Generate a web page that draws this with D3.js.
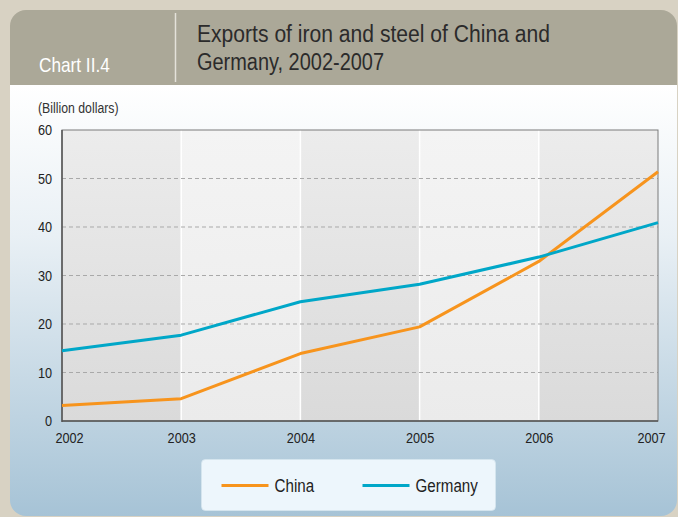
<!DOCTYPE html>
<html lang="en">
<head>
    <title>Exports of iron and steel of China and Germany, 2002-2007</title>
    <style>
        body {
            margin: 0;
            padding: 0;
            background: #d8d2c3;
        }
        svg {
            display: block;
            font-family: "Liberation Sans", Arial, sans-serif;
        }
    </style>
    <script src="https://d3js.org/d3.v7.min.js"></script>
</head>
<body>
    <div id="chart"></div>

    <script>
        // Chart data (billion dollars)
        const years = [2002, 2003, 2004, 2005, 2006, 2007];
        const china = [3.2, 4.6, 13.9, 19.4, 32.9, 51.4];
        const germany = [14.5, 17.7, 24.6, 28.2, 33.8, 40.9];
        const yTicks = [0, 10, 20, 30, 40, 50, 60];
        const seriesNames = ['China', 'Germany'];
        const seriesColors = ['#f7941d', '#00a7c8'];

        // the original uses a condensed face, so squeeze Liberation Sans horizontally
        const NARROW = 0.82;

        document.addEventListener('DOMContentLoaded', function() {
            const width = 678;
            const height = 517;
            const plot = {left: 62, right: 658, top: 130, bottom: 421};

            const svg = d3.select('#chart')
                .append('svg')
                .attr('width', width)
                .attr('height', height);

            function narrowText(parent, x, y, str, size, color, anchor) {
                return parent.append('g')
                    .attr('transform', `translate(${x},${y}) scale(${NARROW},1)`)
                    .append('text')
                    .style('font-size', size + 'px')
                    .style('fill', color)
                    .style('text-anchor', anchor || 'start')
                    .text(str);
            }

            const defs = svg.append('defs');

            const bodyGrad = defs.append('linearGradient')
                .attr('id', 'body-grad')
                .attr('x1', 0).attr('y1', 0).attr('x2', 0).attr('y2', 1);
            bodyGrad.append('stop').attr('offset', '0%').attr('stop-color', '#ffffff');
            bodyGrad.append('stop').attr('offset', '35%').attr('stop-color', '#e9f0f5');
            bodyGrad.append('stop').attr('offset', '100%').attr('stop-color', '#a6c3d6');

            const darkGrad = defs.append('linearGradient')
                .attr('id', 'dark-band')
                .attr('x1', 0).attr('y1', 0).attr('x2', 0).attr('y2', 1);
            darkGrad.append('stop').attr('offset', '0%').attr('stop-color', '#ececec');
            darkGrad.append('stop').attr('offset', '100%').attr('stop-color', '#dadada');

            const lightGrad = defs.append('linearGradient')
                .attr('id', 'light-band')
                .attr('x1', 0).attr('y1', 0).attr('x2', 0).attr('y2', 1);
            lightGrad.append('stop').attr('offset', '0%').attr('stop-color', '#f4f4f4');
            lightGrad.append('stop').attr('offset', '100%').attr('stop-color', '#ebebeb');

            const clip = defs.append('clipPath').attr('id', 'panel-clip');
            clip.append('rect')
                .attr('x', 10).attr('y', 10)
                .attr('width', 667).attr('height', 506)
                .attr('rx', 16).attr('ry', 16);

            // Panel: header band + gradient body
            const panel = svg.append('g').attr('clip-path', 'url(#panel-clip)');
            panel.append('rect')
                .attr('x', 10).attr('y', 85)
                .attr('width', 667).attr('height', 432)
                .style('fill', 'url(#body-grad)');
            panel.append('rect')
                .attr('x', 10).attr('y', 10)
                .attr('width', 667).attr('height', 75)
                .style('fill', '#aba898');

            svg.append('line')
                .attr('x1', 175.5).attr('x2', 175.5)
                .attr('y1', 13).attr('y2', 82)
                .style('stroke', '#e4e2da')
                .style('stroke-width', 1.5);

            narrowText(svg, 39, 72, 'Chart II.4', 21, '#ffffff');

            svg.append('text')
                .attr('x', 197).attr('y', 42)
                .attr('textLength', 353)
                .attr('lengthAdjust', 'spacingAndGlyphs')
                .style('font-size', '23px')
                .style('fill', '#2b2b2b')
                .text('Exports of iron and steel of China and');
            svg.append('text')
                .attr('x', 197).attr('y', 70)
                .attr('textLength', 187)
                .attr('lengthAdjust', 'spacingAndGlyphs')
                .style('font-size', '23px')
                .style('fill', '#2b2b2b')
                .text('Germany, 2002-2007');

            narrowText(svg, 38, 113, '(Billion dollars)', 15, '#333');

            // Scales
            const x = d3.scaleLinear()
                .domain(d3.extent(years))
                .range([plot.left, plot.right]);
            const y = d3.scaleLinear()
                .domain([0, 60])
                .range([plot.bottom, plot.top]);

            // Column bands
            const bands = d3.pairs(years);
            svg.selectAll('.band')
                .data(bands)
                .enter()
                .append('rect')
                .attr('class', 'band')
                .attr('x', d => x(d[0]))
                .attr('y', plot.top)
                .attr('width', d => x(d[1]) - x(d[0]))
                .attr('height', plot.bottom - plot.top)
                .style('fill', (d, i) => i % 2 === 0 ? 'url(#dark-band)' : 'url(#light-band)');

            svg.selectAll('.band-edge')
                .data(years.slice(1, -1))
                .enter()
                .append('line')
                .attr('class', 'band-edge')
                .attr('x1', d => x(d)).attr('x2', d => x(d))
                .attr('y1', plot.top).attr('y2', plot.bottom)
                .style('stroke', '#ffffff')
                .style('stroke-width', 1.5);

            // Dashed grid
            svg.selectAll('.grid')
                .data(yTicks.slice(1, -1))
                .enter()
                .append('line')
                .attr('class', 'grid')
                .attr('x1', plot.left).attr('x2', plot.right)
                .attr('y1', d => y(d)).attr('y2', d => y(d))
                .style('stroke', '#a9a9a9')
                .style('stroke-dasharray', '4,3');

            // Frame
            svg.append('rect')
                .attr('x', plot.left).attr('y', plot.top)
                .attr('width', plot.right - plot.left)
                .attr('height', plot.bottom - plot.top)
                .style('fill', 'none')
                .style('stroke', '#7a7a7a')
                .style('stroke-width', 1);
            svg.append('line')
                .attr('x1', plot.left).attr('x2', plot.left)
                .attr('y1', plot.top).attr('y2', plot.bottom + 1)
                .style('stroke', '#555')
                .style('stroke-width', 1.5);
            svg.append('line')
                .attr('x1', plot.left).attr('x2', plot.right)
                .attr('y1', plot.bottom).attr('y2', plot.bottom)
                .style('stroke', '#555')
                .style('stroke-width', 1.5);

            // Axis labels
            const yAxis = d3.axisLeft(y).tickValues(yTicks).tickSize(0);
            const gy = svg.append('g')
                .attr('transform', `translate(${plot.left},0)`)
                .call(yAxis);
            gy.select('.domain').remove();
            gy.selectAll('text')
                .attr('x', -10 / NARROW)
                .attr('transform', `scale(${NARROW},1)`)
                .style('font-family', 'inherit')
                .style('font-size', '15.5px')
                .style('fill', '#222');

            const xAxis = d3.axisBottom(x).tickValues(years).tickFormat(d3.format('d')).tickSize(0);
            const gx = svg.append('g')
                .attr('transform', `translate(0,${plot.bottom})`)
                .call(xAxis);
            gx.select('.domain').remove();
            gx.selectAll('text')
                .attr('y', 22)
                .attr('dy', null)
                .attr('x', (d, i) => (i === 0 ? 7 : (i === years.length - 1 ? -7 : 0)) / NARROW)
                .attr('transform', `scale(${NARROW},1)`)
                .style('font-family', 'inherit')
                .style('font-size', '15.5px')
                .style('fill', '#222');

            // Lines
            const line = d3.line()
                .x((d, i) => x(years[i]))
                .y(d => y(d));

            [china, germany].forEach((values, k) => {
                svg.append('path')
                    .datum(values)
                    .attr('d', line)
                    .style('fill', 'none')
                    .style('stroke', seriesColors[k])
                    .style('stroke-width', 3)
                    .style('stroke-linejoin', 'round');
            });

            // Legend
            const legend = svg.append('g').attr('transform', 'translate(201.5,459.5)');
            legend.append('rect')
                .attr('width', 294).attr('height', 51)
                .attr('rx', 4)
                .style('fill', '#edf6fc')
                .style('stroke', '#d6e6ef')
                .style('stroke-width', 0.8);
            const item = legend.selectAll('.item')
                .data(seriesNames)
                .enter()
                .append('g')
                .attr('class', 'item')
                .attr('transform', (d, i) => `translate(${20 + i * 141},26)`);
            item.append('line')
                .attr('x1', 0).attr('x2', 47)
                .style('stroke', (d, i) => seriesColors[i])
                .style('stroke-width', 3);
            item.each(function(d) {
                narrowText(d3.select(this), 53, 6.5, d, 18.5, '#222');
            });
        });
    </script>
</body>
</html>
